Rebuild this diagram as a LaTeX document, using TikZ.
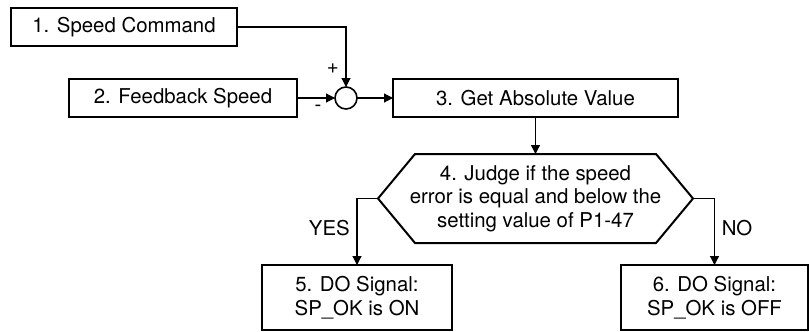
\documentclass[tikz,border=0pt]{standalone}
\usepackage{fontspec}
\setmainfont{TeX Gyre Heros}
\usetikzlibrary{positioning, arrows.meta}

\begin{document}
\begin{tikzpicture}[
        node distance=18pt,
        block/.style={rectangle, draw, line width=1pt, inner sep=0pt, outer sep=0pt, minimum height=19pt, align=center, font=\fontsize{10.2}{11.8}\selectfont},
        summer/.style={circle, draw, line width=0.8pt, inner sep=0pt, outer sep=0pt, minimum size=11pt},
        decision/.style={rectangle, inner sep=0pt, outer sep=0pt, minimum width=157.5pt, minimum height=44.5pt, align=center, font=\fontsize{10.2}{11.8}\selectfont},
        arrow/.style={-{Triangle[length=4.5pt, width=4.5pt]}, line width=0.6pt},
        sign/.style={font=\fontsize{10.2}{11.8}\selectfont}
    ]
        \useasboundingbox (-62pt,13.5pt) rectangle (342.5pt,-152.5pt);
        % Input side
        \node[block, minimum width=113pt] (cmd) {1. Speed Command};
        \node[block, minimum width=114pt, below right=16.5pt and 29pt of cmd.south west] (fbk) {2. Feedback Speed};
        \node[summer, right=19pt of fbk] (sum) {};
        \node[block, minimum width=142.5pt, right=18pt of sum] (absval) {3. Get Absolute Value};

        % Judge step
        \node[decision, below=18.5pt of absval] (judge) {4. Judge if the speed\\error is equal and below the\\setting value of P1-47};
        \draw[line width=1pt] (judge.west) -- ([xshift=18.5pt]judge.north west) -- ([xshift=-18.5pt]judge.north east)
            -- (judge.east) -- ([xshift=-18.5pt]judge.south east) -- ([xshift=18.5pt]judge.south west) -- cycle;

        % Outputs
        \node[block, minimum width=95pt, minimum height=32.5pt, below=11pt of judge.south, xshift=-89.25pt] (spon) {5. DO Signal:\\SP\_OK is ON};
        \node[block, minimum width=93.5pt, minimum height=32.5pt, below=11pt of judge.south, xshift=89.5pt] (spoff) {6. DO Signal:\\SP\_OK is OFF};

        \draw[arrow] (cmd) -| node[sign, pos=0.85, left] {+} (sum);
        \draw[arrow] (fbk) -- node[sign, pos=0.55, below] {-} (sum);
        \draw[arrow] (sum) -- (absval);
        \draw[arrow] (absval) -- (judge);
        \draw[arrow] (judge.west) -| node[sign, pos=0.72, left] {YES} (spon);
        \draw[arrow] (judge.east) -| node[sign, pos=0.72, right] {NO} (spoff);
    \end{tikzpicture}
\end{document}
